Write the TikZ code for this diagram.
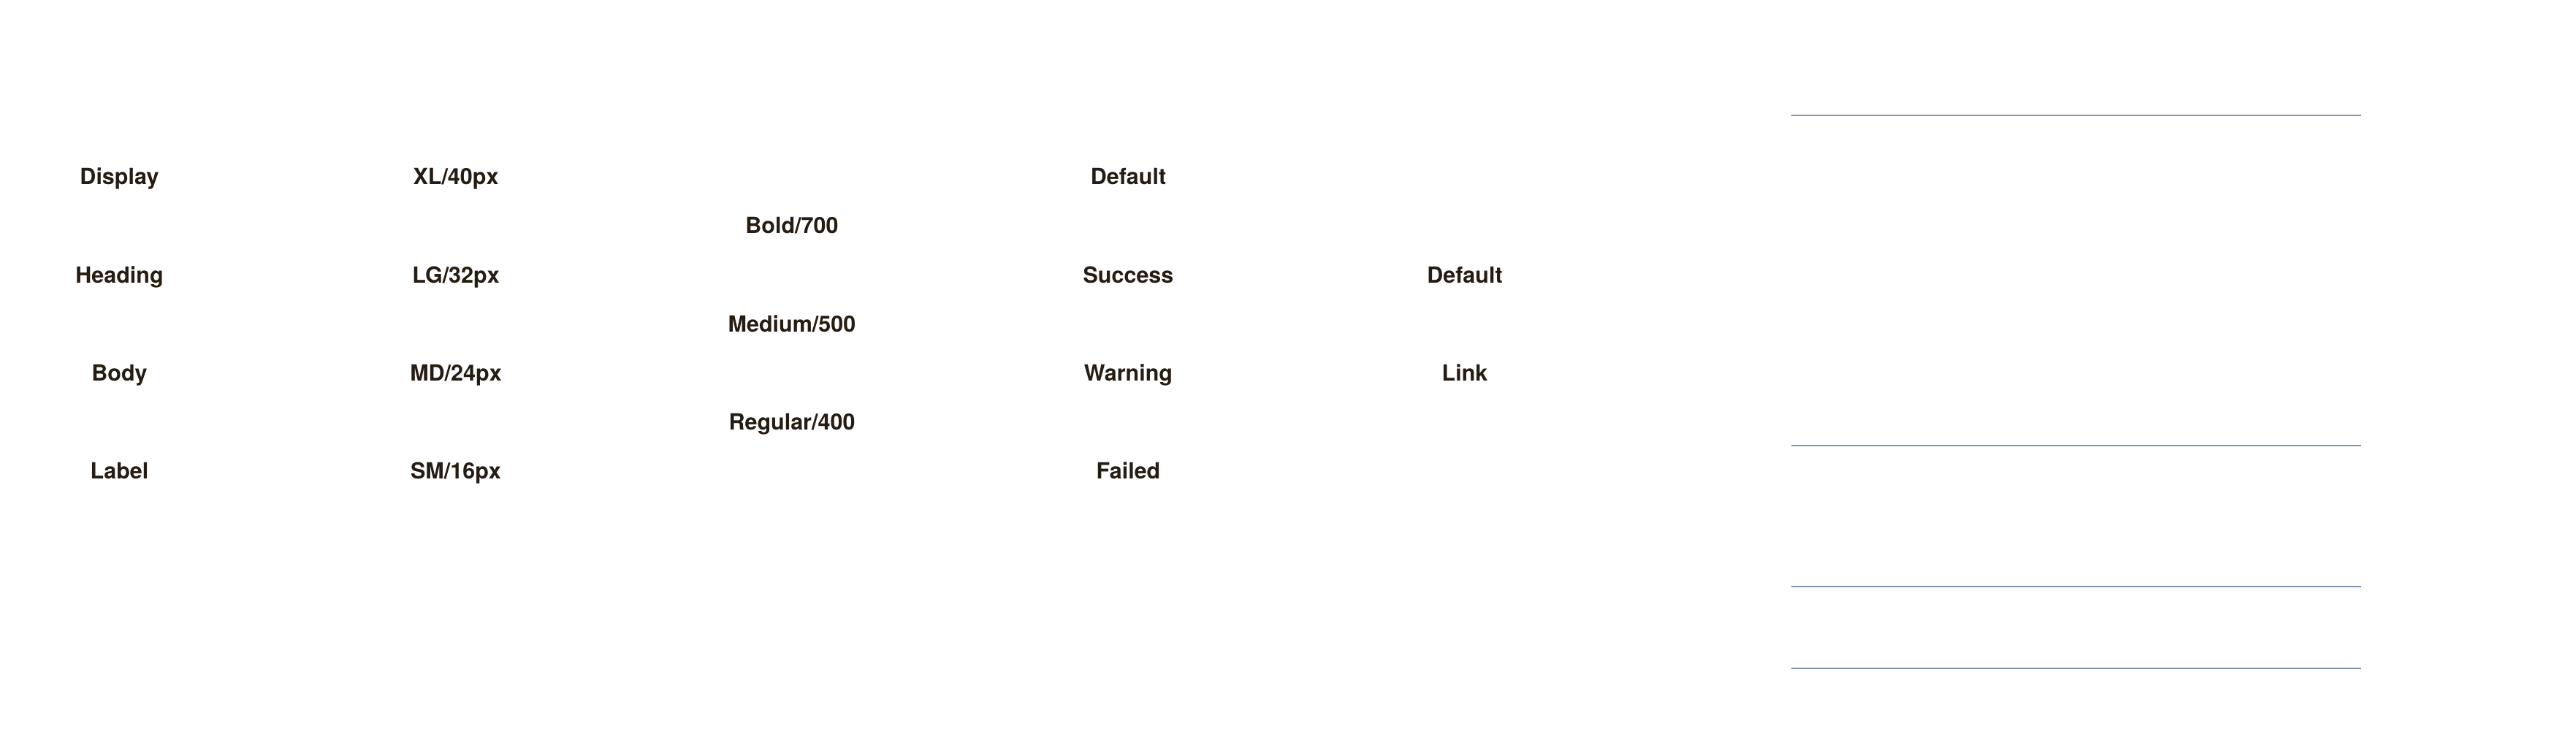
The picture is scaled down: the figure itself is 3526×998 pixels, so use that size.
\documentclass[tikz,border=0pt]{standalone}
\usepackage{fontspec}
\setmainfont{TeX Gyre Heros}
\definecolor{txt}{RGB}{38,28,18}
\definecolor{rule}{RGB}{125,148,172}
\begin{document}
\begin{tikzpicture}[x=1pt,y=-1pt,
  lbl/.style={anchor=base,inner sep=0pt,text=txt,font=\fontsize{30.5}{36}\selectfont\bfseries},
  sep/.style={draw=rule,line width=2pt}]
\useasboundingbox[fill=white] (0,0) rectangle (3526,998);
% columns 163.5, 624, 1084, 1544.5, 2005 ; baselines 252.8 + 67.1 k
\node[lbl] (c1r0) at (163.5,252.8) {Display};
\node[lbl] (c1r2) at (163.5,387) {Heading};
\node[lbl] (c1r4) at (163.5,521.2) {Body};
\node[lbl] (c1r6) at (163.5,655.4) {Label};
\node[lbl] (c2r0) at (624,252.8) {XL/40px};
\node[lbl] (c2r2) at (624,387) {LG/32px};
\node[lbl] (c2r4) at (624,521.2) {MD/24px};
\node[lbl] (c2r6) at (624,655.4) {SM/16px};
\node[lbl] (c3r1) at (1084,319.9) {Bold/700};
\node[lbl] (c3r3) at (1084,454.1) {Medium/500};
\node[lbl] (c3r5) at (1084,588.3) {Regular/400};
\node[lbl] (c4r0) at (1544.5,252.8) {Default};
\node[lbl] (c4r2) at (1544.5,387) {Success};
\node[lbl] (c4r4) at (1544.5,521.2) {Warning};
\node[lbl] (c4r6) at (1544.5,655.4) {Failed};
\node[lbl] (c5r2) at (2005,387) {Default};
\node[lbl] (c5r4) at (2005,521.2) {Link};
% rules
\coordinate (l1a) at (2452,158); \coordinate (l1b) at (3232,158);
\coordinate (l2a) at (2452,610); \coordinate (l2b) at (3232,610);
\coordinate (l3a) at (2452,803); \coordinate (l3b) at (3232,803);
\coordinate (l4a) at (2452,915); \coordinate (l4b) at (3232,915);
\draw[sep] (l1a) -- (l1b);
\draw[sep] (l2a) -- (l2b);
\draw[sep] (l3a) -- (l3b);
\draw[sep] (l4a) -- (l4b);
\end{tikzpicture}
\end{document}
